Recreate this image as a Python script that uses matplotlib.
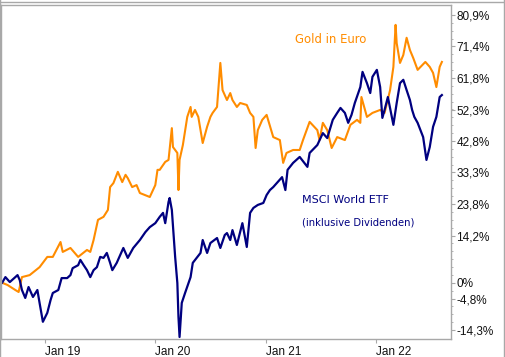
import matplotlib
matplotlib.use("Agg")
import matplotlib.pyplot as plt
from matplotlib.lines import Line2D
import numpy as np

# performance since Aug 2018 in %, x as decimal years
gold_t = [2018.61, 2018.66, 2018.73, 2018.76, 2018.79, 2018.86, 2018.95, 2019.02, 2019.07, 2019.14,
          2019.16, 2019.23, 2019.30, 2019.38, 2019.41, 2019.44, 2019.48, 2019.53, 2019.57, 2019.59,
          2019.62, 2019.66, 2019.70, 2019.73, 2019.75, 2019.79, 2019.83, 2019.86, 2019.95, 2020.00,
          2020.02, 2020.04, 2020.09, 2020.12, 2020.15, 2020.16, 2020.20, 2020.21, 2020.22, 2020.25,
          2020.29, 2020.32, 2020.33, 2020.36, 2020.39, 2020.43, 2020.47, 2020.50, 2020.52, 2020.56,
          2020.59, 2020.61, 2020.65, 2020.68, 2020.70, 2020.74, 2020.77, 2020.83, 2020.86, 2020.89,
          2020.91, 2020.93, 2020.97, 2021.01, 2021.07, 2021.13, 2021.16, 2021.19, 2021.25, 2021.31,
          2021.34, 2021.40, 2021.47, 2021.49, 2021.52, 2021.56, 2021.60, 2021.65, 2021.72, 2021.77,
          2021.83, 2021.86, 2021.87, 2021.92, 2021.97, 2022.04, 2022.08, 2022.13, 2022.16, 2022.18,
          2022.19, 2022.22, 2022.25, 2022.28, 2022.31, 2022.34, 2022.38, 2022.45, 2022.49, 2022.52,
          2022.55, 2022.58, 2022.60]
gold_v = [0.0, -0.7, -2.2, -2.8, 1.7, 2.3, 4.7, 7.8, 7.8, 12.3,
          9.3, 10.5, 7.8, 9.9, 9.3, 12.9, 19.0, 19.9, 22.0, 28.9,
          30.1, 33.5, 30.4, 32.6, 31.6, 28.9, 29.5, 27.1, 25.9, 29.5,
          34.1, 34.1, 36.5, 37.1, 46.7, 41.0, 39.2, 28.0, 37.1, 41.6,
          50.1, 53.1, 50.1, 52.2, 50.1, 42.2, 47.1, 50.1, 51.3, 53.1,
          66.4, 58.2, 55.2, 57.3, 55.2, 53.1, 54.3, 53.7, 51.3, 50.1,
          40.7, 46.1, 49.2, 50.7, 44.0, 43.1, 36.2, 39.2, 40.1, 40.1,
          43.1, 48.6, 46.1, 43.1, 48.3, 46.1, 40.7, 44.0, 43.1, 47.7,
          49.2, 48.3, 56.1, 50.1, 51.3, 52.2, 51.3, 58.2, 65.2, 77.9,
          72.4, 66.4, 68.8, 74.0, 70.3, 67.9, 64.3, 66.7, 65.2, 63.4,
          59.1, 65.2, 66.7]

msci_t = [2018.61, 2018.64, 2018.68, 2018.75, 2018.77, 2018.79, 2018.82, 2018.85, 2018.89, 2018.93,
          2018.95, 2018.98, 2019.02, 2019.05, 2019.07, 2019.12, 2019.15, 2019.20, 2019.23, 2019.25,
          2019.30, 2019.32, 2019.35, 2019.38, 2019.41, 2019.44, 2019.47, 2019.50, 2019.53, 2019.56,
          2019.59, 2019.61, 2019.65, 2019.71, 2019.75, 2019.80, 2019.86, 2019.91, 2019.95, 2020.00,
          2020.04, 2020.07, 2020.09, 2020.12, 2020.13, 2020.15, 2020.18, 2020.20, 2020.21, 2020.22,
          2020.24, 2020.27, 2020.32, 2020.34, 2020.41, 2020.43, 2020.47, 2020.50, 2020.56, 2020.59,
          2020.63, 2020.65, 2020.68, 2020.70, 2020.74, 2020.79, 2020.81, 2020.83, 2020.86, 2020.89,
          2020.93, 2020.98, 2021.01, 2021.04, 2021.07, 2021.11, 2021.15, 2021.18, 2021.20, 2021.25,
          2021.31, 2021.38, 2021.40, 2021.47, 2021.52, 2021.56, 2021.61, 2021.65, 2021.68, 2021.72,
          2021.75, 2021.78, 2021.81, 2021.86, 2021.88, 2021.92, 2021.95, 2021.97, 2022.01, 2022.04,
          2022.06, 2022.08, 2022.11, 2022.16, 2022.19, 2022.22, 2022.25, 2022.28, 2022.31, 2022.33,
          2022.35, 2022.38, 2022.43, 2022.46, 2022.49, 2022.52, 2022.55, 2022.58, 2022.60]
msci_v = [0.0, 1.7, 0.2, 2.3, 0.8, -2.2, -4.6, -1.3, -4.3, -2.2,
          -6.1, -11.8, -9.1, -5.2, -3.1, -2.2, 1.4, 1.4, 2.3, 4.4,
          5.3, 6.9, 5.3, 3.8, 1.7, 3.8, 4.7, 7.8, 7.5, 9.0,
          6.0, 3.8, 6.0, 10.5, 7.5, 10.5, 12.9, 15.3, 16.8, 18.0,
          19.9, 21.1, 18.0, 24.4, 25.6, 22.0, 7.8, -0.1, -10.3, -16.4,
          -6.1, -3.1, 1.7, 6.0, 9.0, 12.9, 9.0, 12.0, 13.5, 10.5,
          14.4, 15.0, 12.9, 15.9, 11.4, 18.0, 14.4, 10.8, 21.1, 22.6,
          23.5, 24.1, 26.5, 28.0, 28.9, 30.4, 31.9, 28.0, 34.1, 36.2,
          38.0, 35.0, 39.2, 41.6, 45.2, 43.7, 49.2, 51.3, 52.8, 51.3,
          48.3, 50.7, 54.3, 59.1, 63.7, 60.3, 57.3, 62.2, 64.3, 59.1,
          49.8, 52.2, 56.1, 47.7, 54.3, 60.3, 61.3, 58.2, 55.2, 52.2,
          50.1, 48.3, 44.0, 37.1, 41.0, 47.1, 50.1, 56.1, 56.7]

y_ticks = [80.9, 71.4, 61.8, 52.3, 42.8, 33.3, 23.8, 14.2, 0, -4.8, -14.3]
y_labels = ["80,9%", "71,4%", "61,8%", "52,3%", "42,8%", "33,3%", "23,8%", "14,2%", "0%", "-4,8%", "-14,3%"]
x_ticks = [2019, 2020, 2021, 2022]
x_labels = ["Jan 19", "Jan 20", "Jan 21", "Jan 22"]

GOLD = "#FF8C00"
NAVY = "#000080"
GREY = "#A8A8A8"

W, H = 506, 357
fig = plt.figure(figsize=(W / 100, H / 100), dpi=100)
ax = fig.add_axes([1 / W, 18 / H, 449.7 / W, 334 / H])

ax.plot(gold_t, gold_v, color=GOLD, lw=1.5)
ax.plot(msci_t, msci_v, color=NAVY, lw=1.6)

ax.set_xlim(2018.60, 2022.68)
ax.set_ylim(-17.0, 83.9)

for s in ax.spines.values():
    s.set_color(GREY)
    s.set_linewidth(1.0)

ax.yaxis.tick_right()
ax.set_yticks(y_ticks)
ax.set_yticklabels(y_labels)
ax.set_yticks(np.arange(-14.3, 83.0, 9.52 / 4), minor=True)
ax.tick_params(axis="y", which="major", direction="out", length=3, width=0.8,
               color=GREY, pad=1, labelsize=8.5, labelcolor="#111111")
ax.tick_params(axis="y", which="minor", direction="out", length=1.5, width=0.6, color=GREY)

ax.set_xticks(x_ticks)
ax.set_xticklabels(x_labels)
ax.tick_params(axis="x", direction="out", length=3, width=0.8, color=GREY,
               pad=2, labelsize=8.5, labelcolor="#111111")
for lab in ax.get_xticklabels():
    lab.set_horizontalalignment("left")
for lab in ax.get_xticklabels() + ax.get_yticklabels():
    lab.set_family("Liberation Sans")

ax.text(2021.27, 73.6, "Gold in Euro", color=GOLD, fontsize=8.4, va="center", ha="left")
ax.text(2021.33, 25.0, "MSCI World ETF", color=NAVY, fontsize=8.0, va="center", ha="left")
ax.text(2021.33, 18.3, "(inklusive Dividenden)", color=NAVY, fontsize=7.2, va="center", ha="left")

# outer frame of the picture
fig.add_artist(Line2D([0, 1], [1 - 1.5 / H, 1 - 1.5 / H], color=GREY, lw=1.0))
fig.add_artist(Line2D([1 - 1.5 / W, 1 - 1.5 / W], [0, 1], color=GREY, lw=1.0))
fig.add_artist(Line2D([0.5 / W, 0.5 / W], [0, 1], color=GREY, lw=1.0))

fig.savefig("out.png", dpi=100)
